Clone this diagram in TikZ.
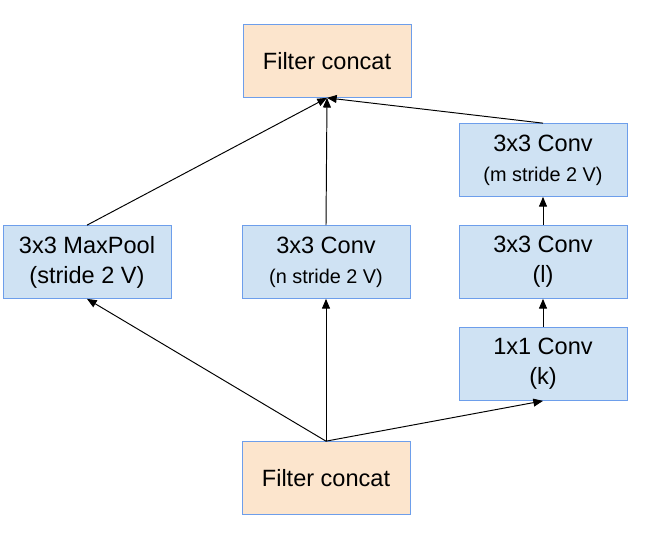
\documentclass[tikz,border=0pt]{standalone}
\usepackage{fontspec}
\setmainfont{Liberation Sans}
\usetikzlibrary{arrows.meta,positioning}
\definecolor{catfill}{HTML}{FCE5CD}
\definecolor{convfill}{HTML}{CFE2F3}
\definecolor{boxline}{HTML}{6D9EEB}
\tikzset{
  catbox/.style={draw=boxline,fill=catfill,minimum width=168*0.02cm,minimum height=73*0.02cm,inner sep=0pt,align=center,font=\fontsize{13.4}{16.5}\selectfont},
  convbox/.style={draw=boxline,fill=convfill,minimum width=168*0.02cm,minimum height=73*0.02cm,inner sep=0pt,align=center,font=\fontsize{13.4}{17}\selectfont,execute at begin node={\rule{0pt}{13.5pt}}},
  flow/.style={-{Triangle[length=5.5pt,width=4.5pt]},line width=0.55pt},
}
\newcommand{\subtxt}{\fontsize{11.3}{14}\selectfont}

\begin{document}
\begin{tikzpicture}[x=0.02cm,y=-0.02cm]
\useasboundingbox (0,0) rectangle (670,532);
\node[catbox] (topcat) at (327,61) {Filter concat};
\node[convbox] (pool) at (87,262) {3x3 MaxPool\\(stride 2 V)};
\node[convbox] (nconv) at (326,262) {3x3 Conv\\{\subtxt (n stride 2 V)}};
\node[convbox] (mconv) at (543,160) {3x3 Conv\\{\subtxt (m stride 2 V)}};
\node[convbox] (lconv) at (543,262) {3x3 Conv\\(l)};
\node[convbox] (kconv) at (543,364) {1x1 Conv\\(k)};
\node[catbox] (botcat) at (326,478) {Filter concat};
% into the upper concat
\draw[flow] (pool.north) -- (topcat.south);
\draw[flow] (nconv.north) -- (topcat.south);
\draw[flow] (mconv.north) -- (topcat.south);
% right branch
\draw[flow] (kconv) -- (lconv);
\draw[flow] (lconv) -- (mconv);
% out of the lower concat
\draw[flow] (botcat.north) -- (pool.south);
\draw[flow] (botcat.north) -- (nconv.south);
\draw[flow] (botcat.north) -- (kconv.south);
\end{tikzpicture}
\end{document}
